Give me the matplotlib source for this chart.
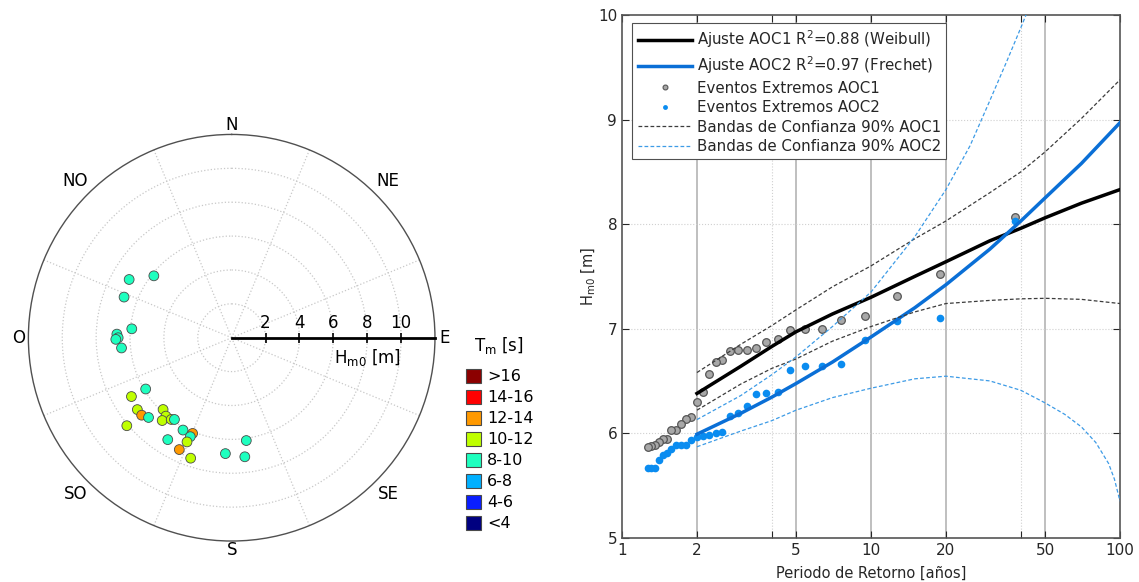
import numpy as np
import matplotlib.pyplot as plt
from matplotlib.lines import Line2D
from matplotlib.patches import Patch
from matplotlib.ticker import NullLocator

plt.rcParams['font.family'] = 'DejaVu Sans'

# Rosa: direccion (grados), Hm0 (m) y clase de Tm de cada evento
dir_deg = [308.5, 299.6, 290.7, 275.1, 271.8, 270.0, 269.2, 264.7, 239.2, 239.6,
           232.7, 229.3, 226.2, 223.7, 220.0, 220.0, 216.5, 215.0, 230.0, 207.8,
           202.2, 202.7, 203.2, 212.1, 205.1, 198.8, 183.1, 171.9, 173.7]
hm0 = [5.87, 6.96, 6.79, 5.92, 6.78, 6.70, 6.84, 6.53, 5.91, 6.86,
       7.00, 7.01, 6.80, 5.86, 6.04, 6.38, 6.00, 5.89, 8.08, 6.16,
       6.10, 6.33, 6.69, 7.10, 7.29, 7.51, 6.85, 6.13, 7.07]
tm_clase = ['8-10', '8-10', '8-10', '8-10', '8-10', '8-10', '8-10', '8-10', '8-10', '10-12',
            '10-12', '12-14', '8-10', '10-12', '10-12', '10-12', '10-12', '8-10', '10-12', '8-10',
            '12-14', '8-10', '10-12', '8-10', '12-14', '10-12', '8-10', '8-10', '8-10']

tm_labels = ['>16', '14-16', '12-14', '10-12', '8-10', '6-8', '4-6', '<4']
tm_colors = ['#8c0000', '#ff0000', '#ff9900', '#bfff00', '#1effbf', '#00b0ff', '#0a1eff', '#000080']
rose_labels = ['N', 'NE', 'E', 'SE', 'S', 'SO', 'O', 'NO']
rose_r_ticks = [2, 4, 6, 8, 10]

# Periodo de retorno de los eventos extremos
T_eventos = [37.9, 19.0, 12.7, 9.5, 7.6, 6.33, 5.43, 4.75, 4.22, 3.8,
             3.45, 3.17, 2.92, 2.71, 2.53, 2.38, 2.24, 2.11, 2.0, 1.9,
             1.81, 1.73, 1.65, 1.58, 1.52, 1.46, 1.41, 1.36, 1.31, 1.27]
h_aoc1 = [8.07, 7.52, 7.31, 7.12, 7.08, 7.00, 7.00, 6.99, 6.90, 6.87,
          6.81, 6.80, 6.80, 6.79, 6.70, 6.68, 6.57, 6.39, 6.30, 6.15,
          6.14, 6.09, 6.03, 6.03, 5.94, 5.94, 5.92, 5.89, 5.88, 5.87]
h_aoc2 = [8.03, 7.10, 7.07, 6.89, 6.66, 6.64, 6.64, 6.60, 6.39, 6.38,
          6.37, 6.26, 6.19, 6.16, 6.01, 6.00, 5.98, 5.97, 5.96, 5.93,
          5.89, 5.89, 5.89, 5.85, 5.81, 5.79, 5.74, 5.67, 5.67, 5.67]

# Ajustes y bandas de confianza
T_ajuste = [2, 3, 4, 5, 7, 10, 15, 20, 30, 40, 50, 70, 100]
ajuste_aoc1 = [6.38, 6.64, 6.83, 6.97, 7.14, 7.30, 7.50, 7.64, 7.84, 7.96, 8.06, 8.20, 8.33]
ajuste_aoc2 = [5.99, 6.19, 6.345, 6.475, 6.68, 6.92, 7.20, 7.42, 7.76, 8.03, 8.25, 8.58, 8.97]
banda_sup_aoc1 = [6.58, 6.85, 7.03, 7.18, 7.40, 7.60, 7.86, 8.03, 8.30, 8.50, 8.69, 9.01, 9.38]
banda_inf_aoc1 = [6.22, 6.47, 6.62, 6.71, 6.88, 7.02, 7.16, 7.24, 7.27, 7.285, 7.29, 7.28, 7.24]
T_banda_sup_aoc2 = [2, 3, 4, 5, 7, 10, 15, 20, 25, 30, 35, 40, 50]
banda_sup_aoc2 = [6.13, 6.36, 6.56, 6.73, 7.02, 7.35, 7.88, 8.33, 8.75, 9.18, 9.55, 9.88, 10.45]
T_banda_inf_aoc2 = [2, 3, 4, 5, 7, 10, 15, 20, 30, 40, 50, 60, 70, 80, 90, 95, 100]
banda_inf_aoc2 = [5.87, 6.02, 6.12, 6.22, 6.34, 6.43, 6.52, 6.545, 6.50, 6.41, 6.29, 6.18, 6.06,
                  5.91, 5.71, 5.56, 5.35]

fig = plt.figure(figsize=(11.39, 5.82), dpi=100)

# ---- Rosa de oleaje
ax1 = fig.add_axes([0.0249, 0.0704, 0.357, 0.6986], projection='polar')
ax1.set_theta_zero_location('N')
ax1.set_theta_direction(-1)
ax1.set_ylim(0, 12)
ax1.set_yticks(rose_r_ticks)
ax1.set_yticklabels([])
ax1.set_xticks(np.deg2rad(np.arange(22.5, 360, 45)))
ax1.set_xticklabels([])
ax1.grid(True, color='#c8c8c8', linestyle=':', linewidth=0.9)
ax1.spines['polar'].set_color('#505050')
ax1.spines['polar'].set_linewidth(1.0)

color_map = dict(zip(tm_labels, tm_colors))
ax1.scatter(np.deg2rad(dir_deg), hm0, s=50, c=[color_map[c] for c in tm_clase],
            edgecolors='#4a4a4a', linewidths=0.6, zorder=3)

este = np.pi / 2
ax1.plot([este, este], [0, 12], color='black', lw=2, zorder=4, clip_on=False)
ax1.plot([este] * len(rose_r_ticks), rose_r_ticks, ls='none', marker='|', ms=7,
         mew=1.2, color='black', zorder=4)
for r in rose_r_ticks:
    ax1.annotate(str(r), (este, r), xytext=(0, 10.5), textcoords='offset points',
                 ha='center', va='center', fontsize=12)
ax1.annotate('$\\mathregular{H_{m0}}$ [m]', (este, 8.0), xytext=(0, -14),
             textcoords='offset points', ha='center', va='center', fontsize=12)
for k, lab in enumerate(rose_labels):
    rr = 12.55 if k % 2 == 0 else 13.05
    ax1.text(np.deg2rad(45 * k), rr, lab, ha='center', va='center', fontsize=12)

# leyenda de colores de Tm
fig.text(499 / 1139, 1 - 346 / 582, '$\\mathregular{T_m}$ [s]', ha='center', va='center',
         fontsize=12)
handles_tm = [Patch(facecolor=c, edgecolor='#4a4a4a', linewidth=0.8) for c in tm_colors]
fig.legend(handles_tm, tm_labels, loc='upper left', bbox_to_anchor=(466 / 1139, 1 - 369 / 582),
           frameon=False, fontsize=11.5, handlelength=0.95, handleheight=0.95,
           handletextpad=0.35, labelspacing=0.35, borderpad=0, borderaxespad=0)

# ---- Periodo de retorno
ax2 = fig.add_axes([0.5461, 0.0761, 0.4372, 0.8981])
ax2.set_xscale('log')
ax2.set_xlim(1, 100)
ax2.set_ylim(5, 10)
for t in [2, 5, 10, 20, 50]:
    ax2.axvline(t, color='#b4b4b4', lw=1.2, zorder=0)
for t in [4, 40]:
    ax2.axvline(t, color='#d0d0d0', lw=0.8, ls=':', zorder=0)
for h in [6, 7, 8, 9]:
    ax2.axhline(h, color='#d0d0d0', lw=0.8, ls=':', zorder=0)

ax2.plot(T_eventos, h_aoc1, 'o', ms=5.5, mfc='#a8a8a8', mec='#555555', mew=0.9, zorder=3)
ax2.plot(T_eventos, h_aoc2, 'o', ms=5.5, color='#0a8cf0', mew=0, zorder=3)

ax2.plot(T_ajuste, ajuste_aoc1, color='black', lw=2.5, zorder=4)
ax2.plot(T_ajuste, ajuste_aoc2, color='#0a6fd6', lw=2.5, zorder=4)
dash = (0, (3, 1.8))
ax2.plot(T_ajuste, banda_sup_aoc1, color='#3c3c3c', lw=0.9, ls=dash, zorder=4)
ax2.plot(T_ajuste, banda_inf_aoc1, color='#3c3c3c', lw=0.9, ls=dash, zorder=4)
ax2.plot(T_banda_sup_aoc2, banda_sup_aoc2, color='#3d9be6', lw=0.9, ls=dash, zorder=4)
ax2.plot(T_banda_inf_aoc2, banda_inf_aoc2, color='#3d9be6', lw=0.9, ls=dash, zorder=4)

ax2.set_xticks([1, 2, 4, 5, 10, 20, 40, 50, 100])
ax2.set_xticklabels(['1', '2', '', '5', '10', '20', '', '50', '100'])
ax2.xaxis.set_minor_locator(NullLocator())
ax2.set_yticks([5, 6, 7, 8, 9, 10])
ax2.tick_params(direction='in', top=True, right=True, length=5, labelsize=11,
                colors='#262626')
for sp in ax2.spines.values():
    sp.set_color('#555555')
    sp.set_linewidth(1.2)
ax2.set_xlabel('Periodo de Retorno [años]', fontsize=10.5, color='#262626', labelpad=6)
ax2.set_ylabel('$\\mathregular{H_{m0}}$ [m]', fontsize=10.5, color='#262626', labelpad=0)

handles = [
    Line2D([], [], color='black', lw=2.5),
    Line2D([], [], color='#0a6fd6', lw=2.5),
    Line2D([], [], ls='none', marker='o', ms=3.5, mfc='#a8a8a8', mec='#555555', mew=0.8),
    Line2D([], [], ls='none', marker='o', ms=3.5, color='#0a8cf0', mew=0),
    Line2D([], [], color='#3c3c3c', lw=0.9, ls=dash),
    Line2D([], [], color='#3d9be6', lw=0.9, ls=dash),
]
labels = [
    'Ajuste AOC1 R$^2$=0.88 (Weibull)',
    'Ajuste AOC2 R$^2$=0.97 (Frechet)',
    'Eventos Extremos AOC1',
    'Eventos Extremos AOC2',
    'Bandas de Confianza 90% AOC1',
    'Bandas de Confianza 90% AOC2',
]
leg = ax2.legend(handles, labels, loc='upper left', bbox_to_anchor=(0.021, 0.985),
                 fontsize=10.8, handlelength=3.6, handletextpad=0.35, labelspacing=0.3,
                 borderpad=0.35, borderaxespad=0, fancybox=False, edgecolor='#505050',
                 framealpha=1)
leg.get_frame().set_linewidth(0.8)
for txt in leg.get_texts():
    txt.set_color('#262626')

fig.savefig('out.png', dpi=100, facecolor='white')
